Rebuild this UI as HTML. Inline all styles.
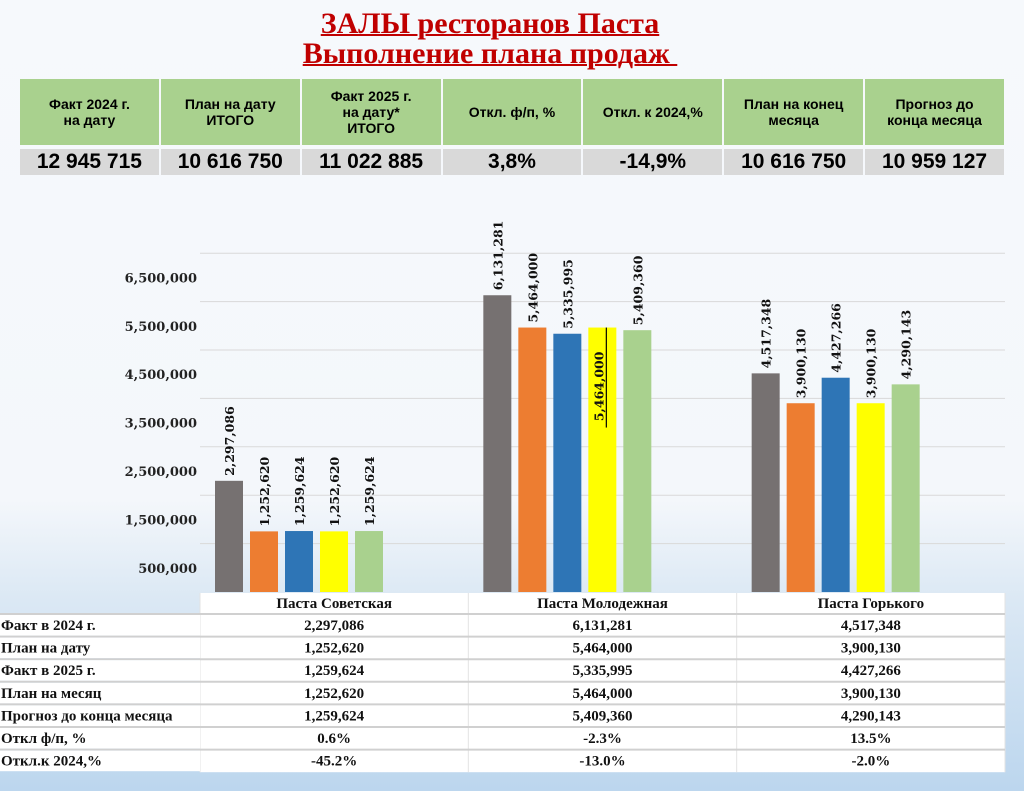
<!DOCTYPE html>
<html><head><meta charset="utf-8">
<style>
body{margin:0;width:1024px;height:791px;overflow:hidden;font-family:"Liberation Serif","Noto Serif CJK SC",serif;
background:linear-gradient(to bottom,#f6f9fc 0px,#f4f7fb 500px,#dbe8f4 600px,#bcd6ee 791px);position:relative}
.title{position:absolute;left:0;width:980px;text-align:center;color:#c00000;font-weight:bold;font-size:30px;line-height:30px;text-decoration:underline;text-decoration-thickness:2px}
table.kpi{position:absolute;left:18px;top:79px;width:988px;border-collapse:separate;border-spacing:2px 0;table-layout:fixed;font-family:"Liberation Sans",sans-serif}
.kpi td{text-align:center;font-weight:bold}
.kpi tr.h td{background:#a9d18e;height:64px;font-size:14px;line-height:16px;border-bottom:4px solid #f6f9fc}
.kpi tr.v td{background:#d9d9d9;height:24px;font-size:21px;line-height:24px}
</style></head><body>
<div class="title" style="top:9px">ЗАЛЫ ресторанов Паста</div>
<div class="title" style="top:39px">Выполнение плана продаж&nbsp;</div>
<table class="kpi">
<tr class="h">
<td>Факт 2024 г.<br>на дату</td>
<td>План на дату<br>ИТОГО</td>
<td>Факт 2025 г.<br>на дату*<br>ИТОГО</td>
<td>Откл. ф/п, %</td>
<td>Откл. к 2024,%</td>
<td>План на конец<br>месяца</td>
<td>Прогноз до<br>конца месяца</td>
</tr>
<tr class="v">
<td>12 945 715</td>
<td>10 616 750</td>
<td>11 022 885</td>
<td>3,8%</td>
<td>-14,9%</td>
<td>10 616 750</td>
<td>10 959 127</td>
</tr>
</table>
<svg id="chart" width="1024" height="791" style="position:absolute;left:0;top:0" xmlns="http://www.w3.org/2000/svg"></svg>
<script>
const categories=["Паста Советская","Паста Молодежная","Паста Горького"];
const seriesNames=["Факт в 2024 г.","План на дату","Факт в 2025 г.","План на месяц","Прогноз до конца месяца"];
const fact2024=[2297086,6131281,4517348];
const planDate=[1252620,5464000,3900130];
const fact2025=[1259624,5335995,4427266];
const planMonth=[1252620,5464000,3900130];
const forecast=[1259624,5409360,4290143];
const devPlan=["0.6%","-2.3%","13.5%"];
const dev2024=["-45.2%","-13.0%","-2.0%"];
const tickValues=[500000,1500000,2500000,3500000,4500000,5500000,6500000];
const gridValues=[1000000,2000000,3000000,4000000,5000000,6000000,7000000];
const colors=["#767171","#ed7d31","#2e75b6","#ffff00","#a9d18e"];
const series=[fact2024,planDate,fact2025,planMonth,forecast];

const svg=document.getElementById('chart');
const NS="http://www.w3.org/2000/svg";
const x0=200,x1=1005,base=592,pxPerM=48.4;
const catW=(x1-x0)/categories.length;
const y=v=>base-v/1e6*pxPerM;
const fmt=v=>v.toLocaleString('en-US');
const WIDE='DejaVu Serif, serif';
function mk(tag,attrs,parent){const e=document.createElementNS(NS,tag);for(const k in attrs)e.setAttribute(k,attrs[k]);(parent||svg).appendChild(e);return e;}

gridValues.forEach((g,i)=>{
 const l=mk('line',{x1:x0,x2:x1,y1:y(g),y2:y(g),stroke:'#d9d9d9','stroke-width':1});
 
 
});
tickValues.forEach(t=>{
 const tx=mk('text',{x:197,y:y(t)+5,'text-anchor':'end','font-size':'13','font-weight':'bold','font-family':WIDE,fill:'#222'});
 tx.textContent=fmt(t);
 
 
});
const barW=28,step=35,off=15;
categories.forEach((c,ci)=>{
 series.forEach((s,si)=>{
  const bx=x0+ci*catW+off+si*step;
  const v=s[ci];
  const r=mk('rect',{x:bx,y:y(v),width:barW,height:base-y(v),fill:colors[si]});
  
  
  const inside=(ci===1&&si===3);
  const lx=inside? bx+barW/2+1 : bx+barW/2+5, ly=inside? y(v)+24 : y(v)-5;
  const t=mk('text',{x:lx,y:ly,'text-anchor':inside?'end':'start','font-size':'12.5','font-weight':'bold','font-family':WIDE,fill:'#111',transform:`rotate(-90 ${lx} ${ly})`});
  t.textContent=fmt(v);
  
  
  if(inside){
   const ln=mk('line',{x1:bx+barW/2+4,x2:bx+barW/2+4,y1:y(v),y2:y(v)+100,stroke:'#000','stroke-width':1.2});
   
   
  }
 });
});
// data table
const rowLabels=seriesNames.concat(["Откл ф/п, %","Откл.к 2024,%"]);
const rowsData=series.map(s=>s.map(fmt)).concat([devPlan,dev2024]);
const tTop=593,hH=21,rH=22.6;
const bg=mk('rect',{x:x0,y:tTop,width:x1-x0,height:hH+rH*7,fill:'#fff'});


categories.forEach((c,ci)=>{
 const t=mk('text',{x:x0+ci*catW+catW/2,y:tTop+15,'text-anchor':'middle','font-size':'15','font-weight':'bold','font-family':'Liberation Serif, serif',fill:'#111'});
 t.textContent=c;
 
 
});
for(let i=0;i<=categories.length;i++){
 const l=mk('line',{x1:x0+i*catW,x2:x0+i*catW,y1:tTop,y2:tTop+hH+rH*7,stroke:'#e3e3e3'});
 
 
}
rowLabels.forEach((lab,ri)=>{
 const ry=tTop+hH+ri*rH;
 const ln=mk('line',{x1:0,x2:x1,y1:ry,y2:ry,stroke:'#d0d0d0','stroke-width':2});
 
 
 const cellBg=mk('rect',{x:0,y:ry+1,width:x0,height:rH-2,fill:'#ffffff'});
 
 
 const t=mk('text',{x:1,y:ry+16,'font-size':'15','font-weight':'bold','font-family':'Liberation Serif, serif',fill:'#111'});
 t.textContent=lab;
 
 
 rowsData[ri].forEach((val,ci)=>{
  const tv=mk('text',{x:x0+ci*catW+catW/2,y:ry+16,'text-anchor':'middle','font-size':'15','font-weight':'bold','font-family':'Liberation Serif, serif',fill:'#111'});
  tv.textContent=val;
  
  
 });
});
</script>
</body></html>
